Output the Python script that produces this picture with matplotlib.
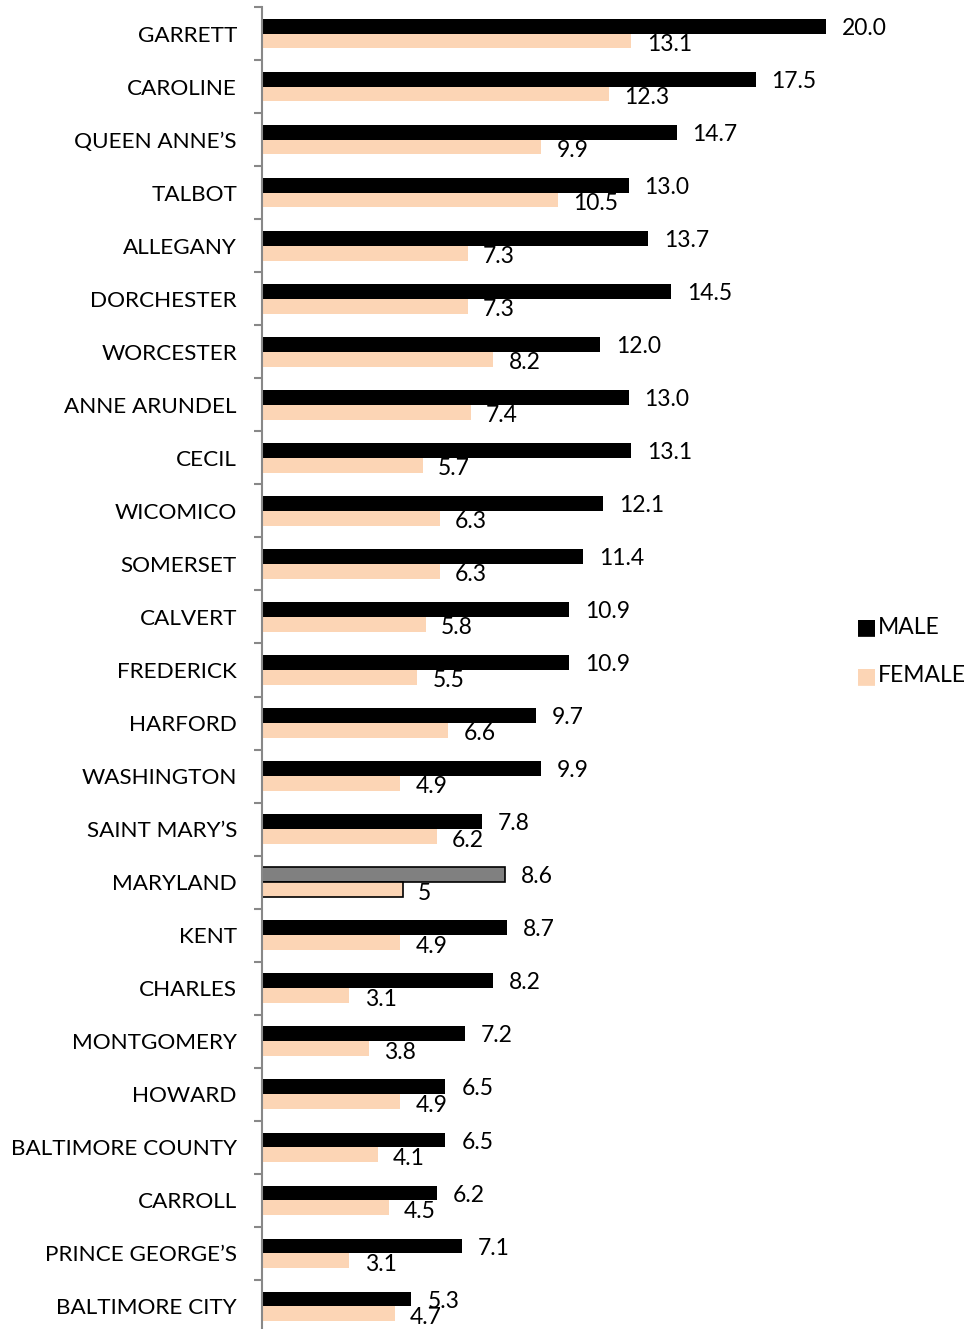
import matplotlib.pyplot as plt
import numpy as np

# county rates, top to bottom as in the chart
counties = ["GARRETT", "CAROLINE", "QUEEN ANNE\u2019S", "TALBOT", "ALLEGANY", "DORCHESTER",
            "WORCESTER", "ANNE ARUNDEL", "CECIL", "WICOMICO", "SOMERSET", "CALVERT",
            "FREDERICK", "HARFORD", "WASHINGTON", "SAINT MARY\u2019S", "MARYLAND", "KENT",
            "CHARLES", "MONTGOMERY", "HOWARD", "BALTIMORE COUNTY", "CARROLL",
            "PRINCE GEORGE\u2019S", "BALTIMORE CITY"]
male = [20.0, 17.5, 14.7, 13.0, 13.7, 14.5, 12.0, 13.0, 13.1, 12.1, 11.4, 10.9, 10.9,
        9.7, 9.9, 7.8, 8.6, 8.7, 8.2, 7.2, 6.5, 6.5, 6.2, 7.1, 5.3]
female = [13.1, 12.3, 9.9, 10.5, 7.3, 7.3, 8.2, 7.4, 5.7, 6.3, 6.3, 5.8, 5.5, 6.6,
          4.9, 6.2, 5.0, 4.9, 3.1, 3.8, 4.9, 4.1, 4.5, 3.1, 4.7]
male_labels = ["20.0", "17.5", "14.7", "13.0", "13.7", "14.5", "12.0", "13.0", "13.1",
               "12.1", "11.4", "10.9", "10.9", "9.7", "9.9", "7.8", "8.6", "8.7", "8.2",
               "7.2", "6.5", "6.5", "6.2", "7.1", "5.3"]
female_labels = ["13.1", "12.3", "9.9", "10.5", "7.3", "7.3", "8.2", "7.4", "5.7", "6.3",
                 "6.3", "5.8", "5.5", "6.6", "4.9", "6.2", "5", "4.9", "3.1", "3.8",
                 "4.9", "4.1", "4.5", "3.1", "4.7"]

MALE_C = "black"
FEMALE_C = "#FCD5B5"
FONT = "Lato"
FS = 16.5

W, H = 967, 1329
fig = plt.figure(figsize=(W / 100, H / 100), dpi=100)
ax = fig.add_axes([262 / W, -4 / H, 564 / W, 1326 / H])

y = np.arange(len(counties))
bh = 0.28
m_col = [MALE_C] * len(counties)
f_col = [FEMALE_C] * len(counties)
m_edge = ["none"] * len(counties)
f_edge = ["none"] * len(counties)
md = counties.index("MARYLAND")
m_col[md] = "#808080"
m_edge[md] = "black"
f_edge[md] = "black"

ax.barh(y - bh / 2, male, height=bh, color=m_col, edgecolor=m_edge, linewidth=1.2)
ax.barh(y + bh / 2, female, height=bh, color=f_col, edgecolor=f_edge, linewidth=1.2)

for i in range(len(counties)):
    ax.annotate(male_labels[i], (male[i], y[i] - bh / 2), xytext=(11.5, -1.5),
                textcoords="offset points", va="center", ha="left",
                fontsize=FS, family=FONT, annotation_clip=False)
    ax.annotate(female_labels[i], (female[i], y[i] + bh / 2), xytext=(11, -2.5),
                textcoords="offset points", va="center", ha="left",
                fontsize=FS, family=FONT, annotation_clip=False)

ax.set_xlim(0, 20)
ax.set_ylim(len(counties) - 0.5, -0.5)
ax.set_yticks(y)
ax.set_yticklabels(counties, fontsize=16.2, family=FONT)
ax.tick_params(axis="y", which="major", length=0, pad=18)
ax.set_yticks(np.arange(len(counties) + 1) - 0.5, minor=True)
ax.tick_params(axis="y", which="minor", length=6, width=1.5, color="#888888")
ax.set_xticks([])
for s in ["top", "right", "bottom"]:
    ax.spines[s].set_visible(False)
ax.spines["left"].set_color("#888888")
ax.spines["left"].set_linewidth(1.5)

# legend drawn as squares + text in figure coords
fig.text(856 / W, 1 - 627 / H, "\u25A0", color=MALE_C, fontsize=16, va="center", ha="left",
         family="DejaVu Sans")
fig.text(878 / W, 1 - 627 / H, "MALE", fontsize=FS, va="center", ha="left", family=FONT)
fig.text(856 / W, 1 - 676 / H, "\u25A0", color=FEMALE_C, fontsize=16, va="center", ha="left",
         family="DejaVu Sans")
fig.text(878 / W, 1 - 676 / H, "FEMALE", fontsize=FS, va="center", ha="left", family=FONT)

fig.savefig("out.png", dpi=100)
